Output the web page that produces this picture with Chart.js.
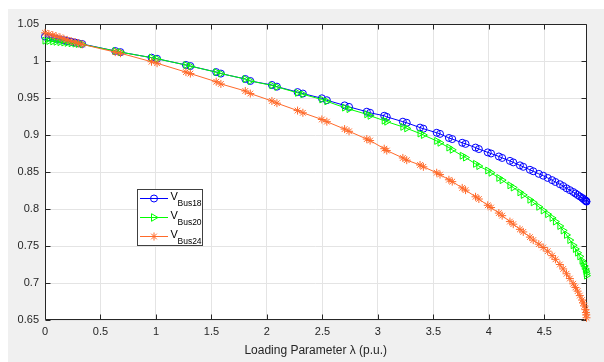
<!DOCTYPE html>
<html><head><meta charset="utf-8">
<script src="https://cdn.jsdelivr.net/npm/chart.js@4/dist/chart.umd.min.js"></script>
<style>html,body{margin:0;padding:0;background:#fff;}#wrap{position:relative;width:604px;height:362px;}</style>
</head><body><div id="wrap"><canvas id="c" width="604" height="362"></canvas></div>
<script>
const lambda = [
0, 0.035, 0.07, 0.1, 0.135, 0.17, 0.2, 0.235, 0.27, 0.3, 0.335,
0.633, 0.68, 0.96, 1.01, 1.27, 1.31, 1.543, 1.585, 1.805, 1.85,
2.045, 2.09, 2.276, 2.324, 2.495, 2.54, 2.70, 2.74, 2.90, 2.93,
3.057, 3.08, 3.225, 3.26, 3.38, 3.41, 3.53, 3.56, 3.64, 3.67,
3.76, 3.79, 3.88, 3.91, 3.99, 4.02, 4.09, 4.12, 4.19, 4.22,
4.28, 4.31, 4.37, 4.40, 4.45, 4.49, 4.53, 4.57, 4.60, 4.64,
4.67, 4.70, 4.73, 4.76, 4.78, 4.80, 4.82, 4.84, 4.85, 4.86,
4.87, 4.875, 4.878, 4.88];
const vBus18 = [
1.033, 1.032, 1.031, 1.030, 1.029, 1.028, 1.027, 1.026, 1.025, 1.024, 1.023,
1.0135, 1.012, 1.0045, 1.003, 0.9946, 0.9932, 0.985, 0.983, 0.9757, 0.973,
0.9676, 0.9653, 0.958, 0.956, 0.9496, 0.947, 0.940, 0.938, 0.9315, 0.930,
0.926, 0.9245, 0.918, 0.9165, 0.910, 0.9085, 0.903, 0.9015, 0.896, 0.8945,
0.8895, 0.888, 0.883, 0.881, 0.8765, 0.875, 0.871, 0.869, 0.865, 0.863,
0.859, 0.857, 0.853, 0.851, 0.8475, 0.845, 0.842, 0.839, 0.8365, 0.8335,
0.831, 0.828, 0.8255, 0.823, 0.821, 0.819, 0.817, 0.815, 0.814, 0.8125,
0.8115, 0.811, 0.8105, 0.810];
const vBus20 = [
1.0275, 1.027, 1.0265, 1.026, 1.0255, 1.025, 1.0245, 1.024, 1.0235, 1.023, 1.0225,
1.0135, 1.012, 1.0045, 1.003, 0.9946, 0.993, 0.985, 0.983, 0.9757, 0.973,
0.967, 0.965, 0.957, 0.955, 0.948, 0.9455, 0.937, 0.935, 0.928, 0.926,
0.9194, 0.918, 0.911, 0.909, 0.902, 0.900, 0.892, 0.8895, 0.883, 0.880,
0.872, 0.8695, 0.861, 0.858, 0.852, 0.849, 0.842, 0.839, 0.832, 0.829,
0.8225, 0.819, 0.8125, 0.809, 0.803, 0.798, 0.793, 0.788, 0.783, 0.777,
0.771, 0.765, 0.758, 0.751, 0.746, 0.741, 0.736, 0.730, 0.727, 0.723,
0.719, 0.716, 0.713, 0.710];
const vBus24 = [
1.038, 1.0365, 1.035, 1.0335, 1.032, 1.030, 1.0285, 1.027, 1.0255, 1.024, 1.0225,
1.012, 1.0105, 0.999, 0.997, 0.985, 0.983, 0.972, 0.969, 0.9595, 0.956,
0.946, 0.943, 0.933, 0.930, 0.921, 0.918, 0.908, 0.905, 0.8945, 0.8925,
0.8815, 0.879, 0.869, 0.866, 0.8595, 0.857, 0.849, 0.8465, 0.8395, 0.837,
0.8285, 0.8255, 0.8165, 0.8135, 0.805, 0.802, 0.7945, 0.791, 0.783, 0.7795,
0.7725, 0.769, 0.762, 0.758, 0.7525, 0.748, 0.743, 0.737, 0.732, 0.725,
0.719, 0.7125, 0.706, 0.699, 0.694, 0.689, 0.683, 0.677, 0.673, 0.669,
0.664, 0.660, 0.657, 0.653];
const seriesSubs = ['Bus18', 'Bus20', 'Bus24'];
const xTicks = [0, 0.5, 1, 1.5, 2, 2.5, 3, 3.5, 4, 4.5];
const xTickLabels = ['0', '0.5', '1', '1.5', '2', '2.5', '3', '3.5', '4', '4.5'];
const yTicks = [0.65, 0.7, 0.75, 0.8, 0.85, 0.9, 0.95, 1, 1.05];
const yTickLabels = ['0.65', '0.7', '0.75', '0.8', '0.85', '0.9', '0.95', '1', '1.05'];
const xTitle = 'Loading Parameter \u03bb (p.u.)';

const FONT = "'Liberation Sans', Arial, Helvetica, sans-serif";
const AXC = '#262626';
const colors = ['#0000ff', '#00ff00', '#ff6a2a'];
const styles = ['circle', 'triangle', 'star'];
const radii = [3.5, 4, 4];
const rots = [0, 90, 0];

function pts(ys) { return lambda.map((x, i) => ({x: x, y: ys[i]})); }
const allY = [vBus18, vBus20, vBus24];

const datasets = allY.map((ys, k) => ({
  label: 'V' + seriesSubs[k],
  data: pts(ys),
  showLine: true,
  borderColor: colors[k],
  borderWidth: 1,
  backgroundColor: 'rgba(0,0,0,0)',
  pointStyle: styles[k],
  pointRadius: radii[k],
  pointRotation: rots[k],
  pointBorderColor: colors[k],
  pointBackgroundColor: 'rgba(0,0,0,0)',
  pointBorderWidth: 1,
  tension: 0,
  clip: false,
  order: 3 - k
}));

const bgPlugin = {
  id: 'bg',
  beforeDraw(chart) {
    const ctx = chart.ctx, a = chart.chartArea;
    ctx.save();
    ctx.fillStyle = '#ffffff';
    ctx.fillRect(0, 0, chart.width, chart.height);
    ctx.fillStyle = '#f0f0f0';
    ctx.fillRect(8, 9, chart.width - 8, chart.height - 9);
    ctx.fillStyle = '#ffffff';
    ctx.fillRect(a.left, a.top, a.right - a.left, a.bottom - a.top);
    ctx.restore();
  },
  beforeDatasetsDraw(chart) {
    const ctx = chart.ctx, a = chart.chartArea;
    const xs = chart.scales.x, ys = chart.scales.y;
    const L = Math.round(a.left) + 0.5, R = Math.round(a.right) - 0.5;
    const T = Math.round(a.top) + 0.5, B = Math.round(a.bottom) - 0.5;
    ctx.save();
    ctx.strokeStyle = AXC;
    ctx.lineWidth = 1;
    ctx.beginPath();
    ctx.rect(L, T, R - L, B - T);
    const tl = 5;
    xTicks.forEach(v => {
      const px = Math.round(xs.getPixelForValue(v)) + 0.5;
      ctx.moveTo(px, B); ctx.lineTo(px, B - tl);
      ctx.moveTo(px, T); ctx.lineTo(px, T + tl);
    });
    yTicks.forEach(v => {
      const py = Math.round(ys.getPixelForValue(v)) + 0.5;
      ctx.moveTo(L, py); ctx.lineTo(L + tl, py);
      ctx.moveTo(R, py); ctx.lineTo(R - tl, py);
    });
    ctx.stroke();
    ctx.restore();
  },
  afterDraw(chart) {
    const ctx = chart.ctx;
    ctx.save();
    const bx = 137.5, by = 189.5, bw = 65, bh = 56;
    ctx.fillStyle = '#ffffff';
    ctx.fillRect(bx, by, bw, bh);
    ctx.strokeStyle = '#404040';
    ctx.lineWidth = 1;
    ctx.strokeRect(bx, by, bw, bh);
    const rowsY = [198.5, 217.5, 236.5];
    for (let k = 0; k < 3; k++) {
      const y = rowsY[k];
      ctx.strokeStyle = colors[k];
      ctx.lineWidth = 1;
      ctx.beginPath();
      ctx.moveTo(140, y); ctx.lineTo(168, y);
      ctx.stroke();
      const mx = 154;
      ctx.beginPath();
      if (k === 0) {
        ctx.arc(mx, y, 3.5, 0, Math.PI * 2);
      } else if (k === 1) {
        ctx.moveTo(mx + 4, y);
        ctx.lineTo(mx - 2.5, y - 3.8);
        ctx.lineTo(mx - 2.5, y + 3.8);
        ctx.closePath();
      } else {
        const r = 4;
        for (let j = 0; j < 4; j++) {
          const ang = j * Math.PI / 4;
          ctx.moveTo(mx - r * Math.cos(ang), y - r * Math.sin(ang));
          ctx.lineTo(mx + r * Math.cos(ang), y + r * Math.sin(ang));
        }
      }
      ctx.stroke();
      ctx.fillStyle = '#000000';
      ctx.textAlign = 'left';
      ctx.textBaseline = 'alphabetic';
      ctx.font = '11px ' + FONT;
      ctx.fillText('V', 170.5, y + 1);
      ctx.font = '8.5px ' + FONT;
      ctx.fillText(seriesSubs[k], 177.5, y + 7.5);
    }
    ctx.restore();
  }
};

new Chart(document.getElementById('c'), {
  type: 'scatter',
  data: { datasets: datasets },
  options: {
    responsive: false,
    animation: false,
    devicePixelRatio: 1,
    layout: { padding: { top: 24, right: 17.5, left: 0, bottom: 0 } },
    plugins: { legend: { display: false }, tooltip: { enabled: false } },
    scales: {
      x: {
        type: 'linear', min: 0, max: 4.88,
        afterBuildTicks(s) { s.ticks = xTicks.map(v => ({ value: v })); },
        afterFit(s) { s.height = 42; },
        ticks: {
          autoSkip: false, maxRotation: 0, padding: 5,
          color: AXC, font: { family: FONT, size: 11 },
          callback(v) { const i = xTicks.indexOf(v); return i >= 0 ? xTickLabels[i] : ''; }
        },
        grid: { color: '#e4e4e4', drawTicks: false, lineWidth: 1 },
        border: { display: false },
        title: { display: true, text: xTitle, color: AXC, font: { family: FONT, size: 12 }, padding: { top: 0, bottom: 4 } }
      },
      y: {
        type: 'linear', min: 0.65, max: 1.05,
        afterBuildTicks(s) { s.ticks = yTicks.map(v => ({ value: v })); },
        afterFit(s) { s.width = 45; },
        ticks: {
          autoSkip: false, padding: 6,
          color: AXC, font: { family: FONT, size: 11 },
          callback(v) { const i = yTicks.indexOf(v); return i >= 0 ? yTickLabels[i] : ''; }
        },
        grid: { color: '#e4e4e4', drawTicks: false, lineWidth: 1 },
        border: { display: false }
      }
    }
  },
  plugins: [bgPlugin]
});
</script></body></html>
